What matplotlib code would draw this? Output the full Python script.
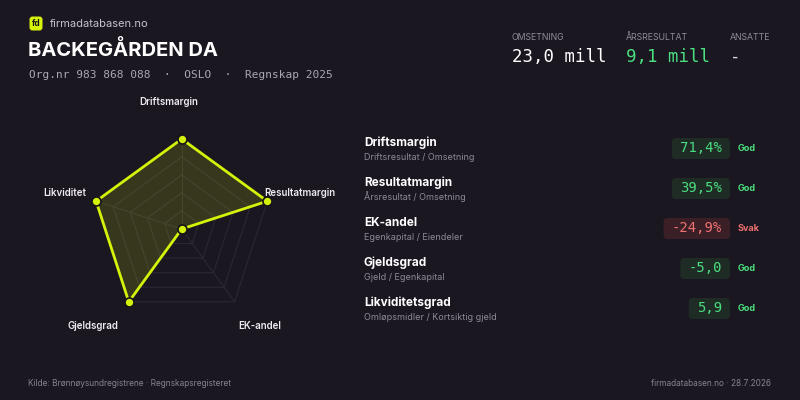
import numpy as np
import matplotlib.pyplot as plt
from matplotlib.patches import FancyBboxPatch

plt.rcParams['font.family'] = ['Inter', 'DejaVu Sans']

# data
company = "BACKEGÅRDEN DA"
subtitle = "Org.nr 983 868 088  ·  OSLO  ·  Regnskap 2025"
stat_labels = ["OMSETNING", "ÅRSRESULTAT", "ANSATTE"]
stat_values = ["23,0 mill", "9,1 mill", "-"]

radar_labels = ["Driftsmargin", "Resultatmargin", "EK-andel", "Gjeldsgrad", "Likviditet"]
radar_scores = [100, 100, 0, 100, 100]  # score 0-100 per axis

metric_names = ["Driftsmargin", "Resultatmargin", "EK-andel", "Gjeldsgrad", "Likviditetsgrad"]
metric_formulas = ["Driftsresultat / Omsetning", "Årsresultat / Omsetning", "Egenkapital / Eiendeler",
                   "Gjeld / Egenkapital", "Omløpsmidler / Kortsiktig gjeld"]
metric_values = ["71,4%", "39,5%", "-24,9%", "-5,0", "5,9"]
metric_status = ["God", "God", "Svak", "God", "God"]

BG = "#1b1720"
LIME = "#d4f20a"
GREEN = "#4ade80"
RED = "#f07171"
MONO = "DejaVu Sans Mono"

fig = plt.figure(figsize=(8, 4), dpi=100, facecolor=BG)
ax = fig.add_axes([0, 0, 1, 1])
ax.set_xlim(0, 800)
ax.set_ylim(400, 0)
ax.axis("off")

# header
ax.add_patch(FancyBboxPatch((29.5, 16.5), 13, 14, boxstyle="round,pad=0,rounding_size=3",
                            fc=LIME, ec="none"))
ax.text(36, 23.5, "fd", color="#16131a", fontsize=6, fontweight="bold", ha="center", va="center")
ax.text(50, 24, "firmadatabasen.no", color="#c4c2cc", fontsize=8, va="center")
ax.text(28, 50, company, color="white", fontsize=14.5, fontweight="bold", va="center")
ax.text(29, 75, subtitle, color="#a9a7b2", fontsize=8, family=MONO, va="center")

stat_x = [512, 626, 730]
stat_colors = ["white", GREEN, "#d8d6de"]
for x, lab, val, c in zip(stat_x, stat_labels, stat_values, stat_colors):
    ax.text(x, 38, lab, color="#8f8d98", fontsize=6.3, va="center")
    ax.text(x, 57, val, color=c, fontsize=12.5, family=MONO, va="center")

# radar
cx, cy, R = 181.7, 229, 90
n = len(radar_labels)
ang = np.pi / 2 - np.arange(n) * 2 * np.pi / n
for lvl in [0.2, 0.4, 0.6, 0.8, 1.0]:
    px = cx + R * lvl * np.cos(ang)
    py = cy - R * lvl * np.sin(ang)
    ax.plot(np.append(px, px[0]), np.append(py, py[0]), color="#2c2833", lw=0.8, zorder=1)
for a in ang:
    ax.plot([cx, cx + R * np.cos(a)], [cy, cy - R * np.sin(a)], color="#2c2833", lw=0.8, zorder=1)

s = np.array(radar_scores) / 100
vx = cx + R * s * np.cos(ang)
vy = cy - R * s * np.sin(ang)
ax.fill(vx, vy, color=LIME, alpha=0.15, lw=0, zorder=2)
ax.plot(np.append(vx, vx[0]), np.append(vy, vy[0]), color=LIME, lw=2, zorder=3)
ax.plot(vx, vy, "o", ms=6.5, mfc=LIME, mec="#16131a", mew=1.2, zorder=4)

lab_pos = [(169, 102, "center"), (264, 193, "left"), (260, 326, "center"),
           (93, 326, "center"), (86, 193, "right")]
for (x, y, ha), lab in zip(lab_pos, radar_labels):
    ax.text(x, y, lab, color="#ecebf0", fontsize=7, fontweight="semibold", ha=ha, va="center")

# metrics table
for i, (nm, fm, val, st) in enumerate(zip(metric_names, metric_formulas, metric_values, metric_status)):
    y = 143 + i * 40
    ax.text(364, y, nm, color="white", fontsize=8.5, fontweight="bold", va="center")
    ax.text(364, y + 14, fm, color="#8c8a95", fontsize=6.5, va="center")
    good = st == "God"
    fg = GREEN if good else RED
    bg = "#1f2c26" if good else "#3a1f26"
    w = len(val) * 8.4 + 16
    ax.add_patch(FancyBboxPatch((730 - w, y - 5), w, 21, boxstyle="round,pad=0,rounding_size=4",
                                fc=bg, ec="none"))
    ax.text(722, y + 5.5, val, color=fg, fontsize=10, family=MONO, ha="right", va="center")
    ax.text(738, y + 5.5, st, color=fg, fontsize=6.5, fontweight="bold", va="center")

# footer
ax.text(28, 383, "Kilde: Brønnøysundregistrene · Regnskapsregisteret", color="#85838e",
        fontsize=6, va="center")
ax.text(771, 383, "firmadatabasen.no · 28.7.2026", color="#85838e", fontsize=6,
        ha="right", va="center")

fig.savefig("out.png", dpi=100, facecolor=BG)
